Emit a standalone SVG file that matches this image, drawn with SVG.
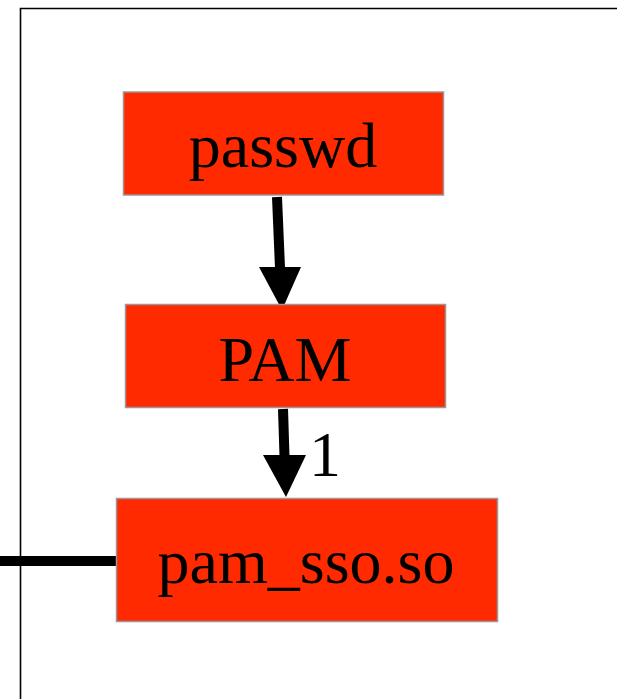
<svg xmlns="http://www.w3.org/2000/svg" width="617" height="699" viewBox="0 0 617 699">
<style>
.node rect{fill:#ff2a00;stroke:#999999;stroke-width:1.5}
.node text{font-family:"Liberation Serif","Times New Roman",serif;font-size:64px;fill:#000;text-anchor:middle}
.edge{stroke:#000;stroke-width:10;fill:none}
.head{fill:#000}
.lbl{font-family:"Liberation Serif","Times New Roman",serif;font-size:64px;fill:#000}
</style>
<rect x="0" y="0" width="617" height="699" fill="#fff"/>
<g id="frame" fill="none" stroke="#000" stroke-width="1.6">
<path d="M20.5 699 V8.5 H617"/>
</g>
<g id="connectors">
<path class="edge" d="M0 561 H116"/>
<path class="edge" d="M277 197 L280 268"/>
<polygon class="head" points="259,267 301,267 282,310"/>
<path class="edge" d="M283 409 L284.5 456"/>
<polygon class="head" points="263,455 306,455 286,497"/>
<text class="lbl" x="309" y="476">1</text>
</g>
<g id="passwd" class="node">
<rect x="123.5" y="92" width="320" height="103"/>
<text x="283" y="167">passwd</text>
</g>
<g id="PAM" class="node">
<rect x="125.5" y="304.5" width="320" height="103"/>
<text x="285" y="381">PAM</text>
</g>
<g id="pam_sso" class="node">
<rect x="116.5" y="498.5" width="381" height="123"/>
<text x="306" y="583">pam_sso.so</text>
</g>
</svg>
